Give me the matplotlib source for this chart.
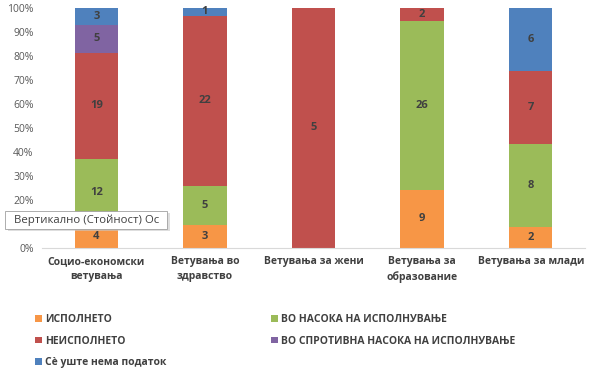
import numpy as np
import matplotlib.pyplot as plt
from matplotlib.patches import FancyBboxPatch

plt.rcParams['font.family'] = ['Open Sans', 'DejaVu Sans']

categories = ["Социо-економски\nветувања", "Ветувања во\nздравство", "Ветувања за жени",
              "Ветувања за\nобразование", "Ветувања за млади"]
series_names = ["ИСПОЛНЕТО", "ВО НАСОКА НА ИСПОЛНУВАЊЕ", "НЕИСПОЛНЕТО",
                "ВО СПРОТИВНА НАСОКА НА ИСПОЛНУВАЊЕ", "Сè уште нема податок"]
ispolneto = [4, 3, 0, 9, 2]
vo_nasoka = [12, 5, 0, 26, 8]
neispolneto = [19, 22, 5, 2, 7]
sprotivna = [5, 0, 0, 0, 0]
nema_podatok = [3, 1, 0, 0, 6]
colors = ["#F79646", "#9BBB59", "#C0504D", "#8064A2", "#4F81BD"]

data = np.array([ispolneto, vo_nasoka, neispolneto, sprotivna, nema_podatok], dtype=float)
totals = data.sum(axis=0)
pct = data / totals * 100

fig = plt.figure(figsize=(5.94, 3.85), dpi=100)
ax = fig.add_axes([42 / 594, 1 - 248 / 385, 543 / 594, 240 / 385])

x = np.arange(len(categories))
bottom = np.zeros(len(categories))
handles = []
for i in range(len(series_names)):
    b = ax.bar(x, pct[i], 0.4, bottom=bottom, color=colors[i], label=series_names[i])
    handles.append(b)
    for j in range(len(categories)):
        if data[i, j] > 0:
            ax.text(x[j], bottom[j] + pct[i, j] / 2, f"{int(data[i, j])}", ha='center', va='center',
                    fontsize=8, fontweight='bold', color='#404040')
    bottom += pct[i]

ax.set_xlim(-0.5, len(categories) - 0.5)
ax.set_ylim(0, 100)
ax.set_yticks(np.arange(0, 101, 10))
ax.set_yticklabels([f"{v}%" for v in range(0, 101, 10)], fontsize=7.5, color='#595959')
ax.set_xticks(x)
ax.set_xticklabels(categories, fontsize=7.5, fontweight='bold', color='#404040', linespacing=1.4)
ax.tick_params(axis='both', length=0, pad=6)
for s in ['top', 'right', 'left']:
    ax.spines[s].set_visible(False)
ax.spines['bottom'].set_color('#D9D9D9')

order = [0, 2, 4, 1, 3]
leg = fig.legend([handles[k] for k in order], [series_names[k] for k in order],
                 loc='upper left', bbox_to_anchor=(26 / 594, 1 - 305 / 385), ncol=2,
                 frameon=False, fontsize=7.5, handlelength=0.6, handleheight=0.6,
                 handletextpad=0.3, columnspacing=10.1, labelspacing=1.0)
for t in leg.get_texts():
    t.set_color('#404040')
    t.set_fontweight('bold')

# tooltip
fig.patches.append(FancyBboxPatch((8 / 594, 1 - 231 / 385), 162 / 594, 18 / 385,
                                  boxstyle="square,pad=0", transform=fig.transFigure,
                                  facecolor='#C8C8C8', edgecolor='none', alpha=0.6))
fig.patches.append(FancyBboxPatch((5 / 594, 1 - 229 / 385), 162 / 594, 18 / 385,
                                  boxstyle="square,pad=0", transform=fig.transFigure,
                                  facecolor='white', edgecolor='#A0A0A0', linewidth=0.6))
fig.text(14 / 594, 1 - 220 / 385, "Вертикално (Стойност) Ос", fontsize=8.2, color='#404040', va='center')

fig.savefig("out.png", dpi=100)
